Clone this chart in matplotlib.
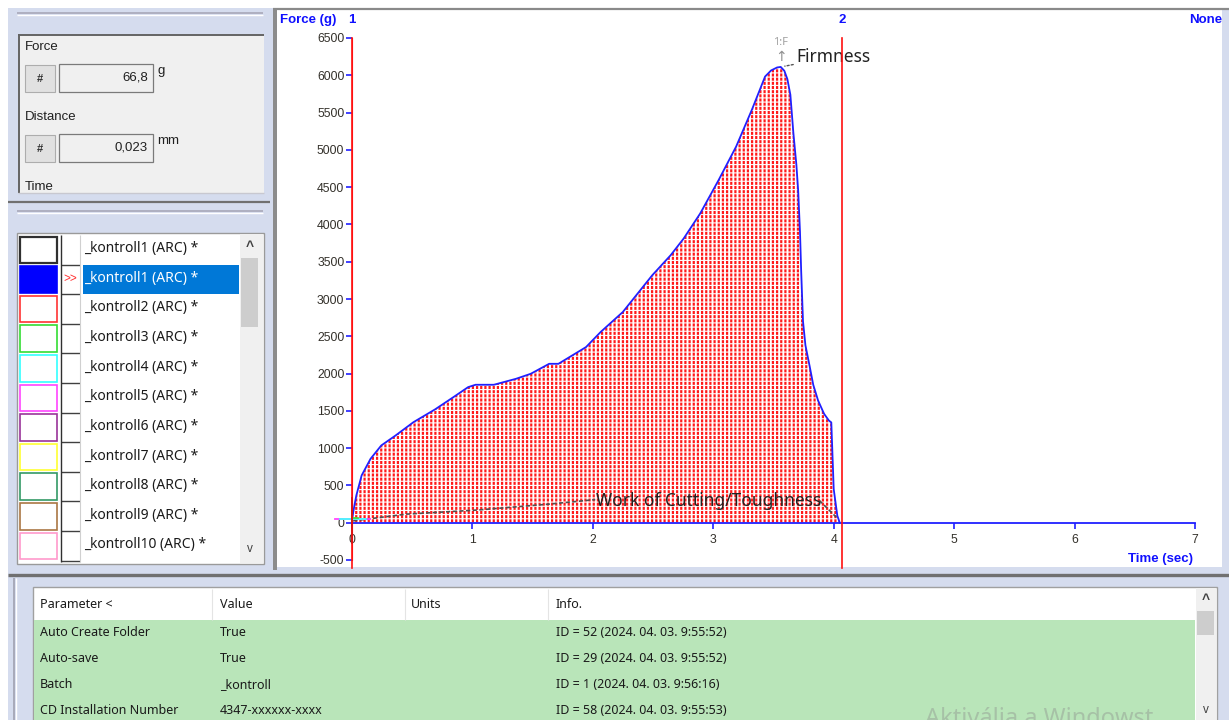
import matplotlib
matplotlib.use("Agg")
import matplotlib.pyplot as plt
from matplotlib.patches import Rectangle

plt.rcParams['font.family'] = ['Liberation Sans', 'DejaVu Sans']
plt.rcParams['axes.unicode_minus'] = False

# force / time curve of the selected sample (_kontroll1)
time_s = [0.00, 0.006, 0.02, 0.036, 0.08, 0.154, 0.243, 0.362, 0.51, 0.69, 0.842,
          0.964, 1.026, 1.178, 1.362, 1.484, 1.637, 1.714, 1.943, 2.065, 2.249,
          2.371, 2.493, 2.646, 2.754, 2.891, 3.044, 3.19, 3.32, 3.43, 3.48, 3.53,
          3.56, 3.59, 3.615, 3.64, 3.665, 3.69, 3.705, 3.72, 3.73, 3.745, 3.765,
          3.80, 3.83, 3.87, 3.92, 3.96, 3.98, 4.00, 4.03, 4.05]
force_g = [50, 98, 232, 366, 634, 857, 1036, 1170, 1348, 1520, 1684,
           1818, 1850, 1850, 1930, 1997, 2131, 2131, 2355, 2558, 2826,
           3072, 3318, 3587, 3811, 4146, 4594, 5045, 5536, 5983, 6065, 6105,
           6112, 6060, 5950, 5740, 5228, 4800, 4450, 3900, 3365, 2700, 2380,
           2100, 1850, 1640, 1460, 1370, 1345, 450, 94, 0]

# other traces, all sitting at the origin
stub_t = [[-0.14, 0.15], [-0.10, 0.12], [0.0, 0.05], [0.0, 0.0]]
stub_f = [[55, 55], [45, 45], [60, 60], [335, -270]]
stub_colors = ['#ff44ff', '#44ffff', '#44dd44', '#202020']

cursor_t = [0.0, 4.07]
cursor_labels = ['1', '2']
x_ticks = [0, 1, 2, 3, 4, 5, 6, 7]
y_ticks = list(range(-500, 7000, 500))

peak_t, peak_f = 3.56, 6112
toughness_lead_t = [0.01, 0.45, 1.04, 1.64, 2.02]
toughness_lead_f = [25, 115, 170, 250, 310]
toughness_tail_t = [3.88, 4.03]
toughness_tail_f = [300, 60]

samples = ['_kontroll1 (ARC) *', '_kontroll1 (ARC) *', '_kontroll2 (ARC) *',
           '_kontroll3 (ARC) *', '_kontroll4 (ARC) *', '_kontroll5 (ARC) *',
           '_kontroll6 (ARC) *', '_kontroll7 (ARC) *', '_kontroll8 (ARC) *',
           '_kontroll9 (ARC) *', '_kontroll10 (ARC) *']
sample_colors = ['#303030', '#0000ff', '#ff3333', '#33dd33', '#33ffff', '#ff44ff',
                 '#993399', '#ffff33', '#339966', '#aa7744', '#ff99cc']
selected = 1

readouts = [('Force', '66,8', 'g'), ('Distance', '0,023', 'mm')]

table_head = ['Parameter <', 'Value', 'Units', 'Info.']
param_names = ['Auto Create Folder', 'Auto-save', 'Batch', 'CD Installation Number']
param_values = ['True', 'True', '_kontroll', '4347-xxxxxx-xxxx']
param_units = ['', '', '', '']
param_info = ['ID = 52 (2024. 04. 03. 9:55:52)', 'ID = 29 (2024. 04. 03. 9:55:52)',
              'ID = 1 (2024. 04. 03. 9:56:16)', 'ID = 58 (2024. 04. 03. 9:55:53)']

BLUE = '#1010ff'
LAV = '#d5dcee'
UI = ['Noto Sans', 'DejaVu Sans']

fig = plt.figure(figsize=(12.29, 7.2), dpi=100)
bg = fig.add_axes([0, 0, 1, 1], zorder=0)
bg.set_xlim(0, 1229)
bg.set_ylim(720, 0)
bg.axis('off')


def box(x0, y0, x1, y1, fc='none', ec='none', lw=1.0, z=1):
    bg.add_patch(Rectangle((x0, y0), x1 - x0, y1 - y0, facecolor=fc,
                           edgecolor=ec, linewidth=lw, zorder=z))


def line(xs, ys, c, lw=0.8, z=2):
    bg.plot(xs, ys, color=c, lw=lw, zorder=z, solid_capstyle='butt')


# window frame
box(0, 0, 1229, 720, fc='white', z=0)
box(8, 8, 1229, 720, fc=LAV, z=0)

# ---- top left: readouts
line([17, 263], [13, 13], '#a8a8b8', 1.2)
line([17, 263], [15, 15], 'white', 1.0)
box(18, 34, 264, 193, fc='#f0f0f0', z=1)
line([18, 264], [34.5, 34.5], '#646464', 1.4, z=3)
line([18.5, 18.5], [34, 193], '#646464', 1.4, z=3)
for k, (lab, val, unit) in enumerate(readouts):
    y0 = 47 + k * 70
    bg.text(25, y0, lab, fontsize=9.5, color='#202020', va='center', zorder=3)
    box(25, y0 + 18, 55, y0 + 45, fc='#e1e1e1', ec='#adadad', lw=0.8, z=2)
    bg.text(40, y0 + 31.5, '#', fontsize=8, color='#303030', ha='center',
            va='center', fontweight='bold', zorder=3)
    box(59, y0 + 17, 153, y0 + 45, fc='#f0f0f0', ec='#7a7a7a', lw=0.9, z=2)
    bg.text(148, y0 + 31, val, fontsize=9.5, color='#202020', ha='right',
            va='center', zorder=3)
    bg.text(157, y0 + 24, unit, fontsize=9.5, color='#202020', ha='left',
            va='center', zorder=3)
bg.text(25, 181, 'Time', fontsize=9.5, color='#202020', va='top', zorder=3)
box(8, 193, 270, 202, fc=LAV, z=4)
line([18, 264], [192.5, 192.5], '#c8c8d0', 1.0, z=5)
line([8, 270], [202, 202], '#707070', 1.6, z=5)

# ---- left list of samples
line([17, 263], [211, 211], '#a8a8b8', 1.2)
line([17, 263], [213, 213], 'white', 1.0)
box(17, 233, 264, 564, fc='white', ec='#9a9a9a', lw=1.0, z=1)
row_h = 29.6
for i, (name, col) in enumerate(zip(samples, sample_colors)):
    top = 235 + i * row_h
    cy = top + row_h / 2
    box(20, top + 1.5, 57, top + row_h - 1.5, fc=col if i == selected else 'white',
        ec=col, lw=1.6 if i == 0 else 1.2, z=2)
    line([61, 80], [top + row_h, top + row_h], '#404040', 1.0)
    tcol = '#1a1a1a'
    if i == selected:
        box(83, top + 0.5, 239, top + row_h - 0.5, fc='#0078d7', z=2)
        tcol = 'white'
        bg.text(63, cy, '>>', fontsize=8.5, color='#ff3030', va='center', zorder=3)
    bg.text(84, cy - 1, name, fontsize=10, color=tcol, va='center', family=UI, zorder=3)
line([61, 61], [235, 562], '#303030', 1.0)
line([80, 80], [235, 562], '#d0d0d0', 0.8)
box(240, 234, 263, 563, fc='#f0f0f0', z=2)
box(241, 258, 258, 327, fc='#cdcdcd', z=3)
bg.text(250, 247, '^', fontsize=10, color='#404040', ha='center', va='center',
        fontweight='bold', zorder=4)
bg.text(250, 549, 'v', fontsize=8.5, color='#404040', ha='center', va='center', zorder=4)

# ---- chart panel
box(273, 8, 277, 570, fc='#8c8c8c', z=1)
box(277, 10, 1222, 567, fc='white', z=1)
line([273, 1229], [9, 9], '#8a8a8a', 1.6)
bg.text(280, 20, 'Force (g)', fontsize=9.5, color=BLUE, fontweight='bold',
        va='center', zorder=3)
bg.text(1222, 20, 'None', fontsize=9.5, color=BLUE, fontweight='bold',
        ha='right', va='center', zorder=3)
bg.text(1193, 559, 'Time (sec)', fontsize=9.5, color=BLUE, fontweight='bold',
        ha='right', va='center', zorder=3)

# ---- bottom parameter table
line([8, 1229], [575, 575], '#707070', 2.4)
line([14, 14], [578, 720], '#a0a0b0', 1.2)
line([16, 16], [578, 720], 'white', 1.0)
box(33, 587, 1217, 725, fc='white', ec='#a0a0a0', lw=1.0, z=1)
box(34, 620, 1195, 725, fc='#b9e5b9', z=2)
col_x = [40, 220, 411, 556]
for x in [212, 405, 548]:
    line([x, x], [589, 620], '#e4e4e4', 0.8)
for x, h in zip(col_x, table_head):
    bg.text(x, 604, h, fontsize=9, color='#1a1a1a', va='center', family=UI, zorder=3)
for r in range(len(param_names)):
    y = 633 + r * 26
    for x, s in zip(col_x, [param_names[r], param_values[r], param_units[r], param_info[r]]):
        bg.text(x, y, s, fontsize=9, color='#1a1a1a', va='center', family=UI, zorder=3)
box(1196, 588, 1216, 725, fc='#f0f0f0', z=2)
box(1197, 611, 1214, 635, fc='#cdcdcd', z=3)
bg.text(1206, 600, '^', fontsize=10, color='#404040', ha='center', va='center',
        fontweight='bold', zorder=4)
bg.text(1206, 710, 'v', fontsize=8.5, color='#404040', ha='center', va='center', zorder=4)
bg.text(925, 707, 'Aktiválja a Windowst', fontsize=17, color='#9aaa9a', alpha=0.6,
        va='top', family=UI, zorder=5)

# ---- the chart itself
ax = fig.add_axes([352 / 1229, (720 - 560) / 720, (1195 - 352) / 1229, (560 - 38) / 720],
                  zorder=2)
ax.patch.set_alpha(0)
ax.set_xlim(0, 7)
ax.set_ylim(-500, 6500)

with plt.rc_context({'hatch.linewidth': 1.6}):
    ax.fill_between(time_s, force_g, 0, facecolor='white', edgecolor='#ff1a1a',
                    hatch='||||', linewidth=0, zorder=1)
with plt.rc_context({'hatch.linewidth': 0.8}):
    ax.fill_between(time_s, force_g, 0, facecolor='none', edgecolor='white',
                    hatch='----', linewidth=0, zorder=1.5)
ax.plot(time_s, force_g, color='#2020ff', lw=1.3, zorder=3)

for st, sf, sc in zip(stub_t, stub_f, stub_colors):
    ax.plot(st, sf, color=sc, lw=1.3, zorder=3.5, clip_on=False)

for ct, cl in zip(cursor_t, cursor_labels):
    ax.axvline(ct, ymin=-0.015, ymax=1, color='#ff1010', lw=1.2, zorder=4, clip_on=False)
    ax.text(ct, 1 + 18 / 522, cl, transform=ax.get_xaxis_transform(), fontsize=9.5,
            color=BLUE, fontweight='bold', ha='center', va='center')

ax.spines['top'].set_visible(False)
ax.spines['right'].set_visible(False)
ax.spines['bottom'].set_position(('data', 0))
ax.spines['bottom'].set_color('#2020ff')
ax.spines['bottom'].set_linewidth(1.3)
ax.spines['left'].set_color('#ff1010')
ax.set_xticks(x_ticks)
ax.set_yticks(y_ticks)
ax.tick_params(axis='both', colors='#2020ff', width=1.2, length=4.5,
               labelcolor='#33302a', labelsize=8.8)
ax.tick_params(axis='x', pad=3.5)
ax.tick_params(axis='y', pad=1)

# Firmness marker at peak
ax.annotate('1:F', (peak_t, peak_f), xytext=(0, 17.5), textcoords='offset points',
            fontsize=8, color='#a0a0a0', ha='center', va='center', family=UI)
ax.annotate('↑', (peak_t, peak_f), xytext=(0, 7.2), textcoords='offset points',
            fontsize=10, color='#909090', ha='center', va='center', family=['DejaVu Sans'])
ax.annotate('Firmness', (peak_t, peak_f), xytext=(11, 7.2), textcoords='offset points',
            fontsize=12.5, color='#222222', ha='left', va='center', family=UI,
            arrowprops=dict(arrowstyle='-', linestyle=(0, (1.5, 1.5)), color='#555555',
                            lw=1.0, shrinkA=0, shrinkB=3))

# Work of Cutting/Toughness label
ax.plot(toughness_lead_t, toughness_lead_f, color='#505050', lw=1.2,
        linestyle=(0, (2.5, 1.5)), zorder=3)
ax.plot(toughness_tail_t, toughness_tail_f, color='#505050', lw=1.2,
        linestyle=(0, (2.5, 1.5)), zorder=3)
ax.text(2.03, 290, 'Work of Cutting/Toughness', fontsize=12.5, color='#222222',
        ha='left', va='center', family=UI, zorder=3)

fig.savefig('out.png', dpi=100)
